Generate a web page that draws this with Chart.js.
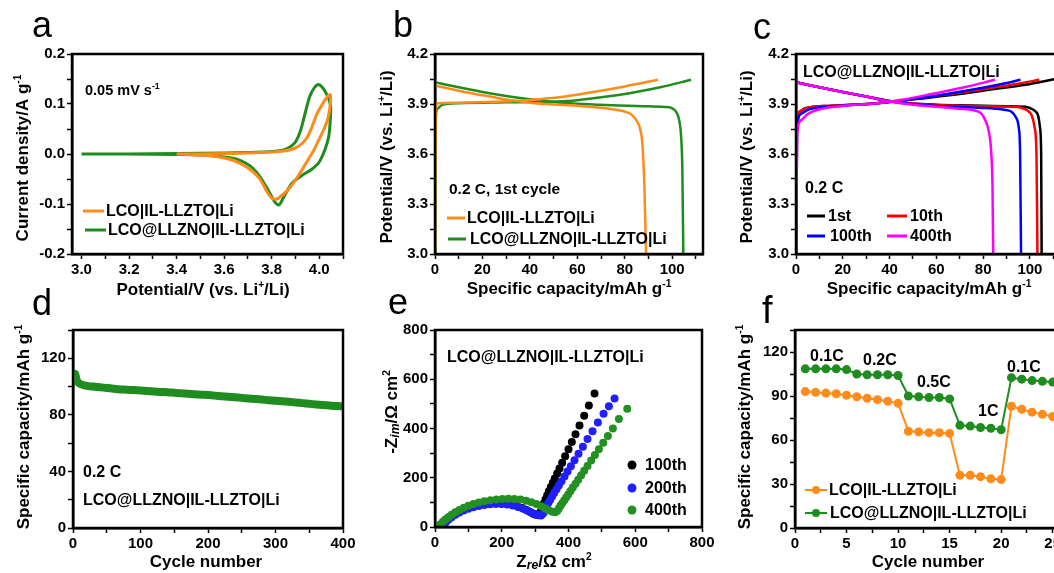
<!DOCTYPE html>
<html>
<head>
<meta charset="utf-8">
<script src="https://cdn.jsdelivr.net/npm/chart.js@4.4.1/dist/chart.umd.min.js"></script>
<style>
  html, body { margin: 0; padding: 0; background: #fff; overflow: hidden; }
  #wrap { position: relative; width: 1054px; height: 573px; overflow: hidden; background: #fff; }
  canvas { position: absolute; }
  .lt { position: absolute; font-family: "Liberation Sans", Arial, sans-serif; font-size: 36px; line-height: 36px; color: #000; }
</style>
</head>
<body>
<div id="wrap">
  <canvas id="pa"></canvas>
  <canvas id="pb"></canvas>
  <canvas id="pc"></canvas>
  <canvas id="pd"></canvas>
  <canvas id="pe"></canvas>
  <canvas id="pf"></canvas>
  <div class="lt" style="left:32px;top:7px">a</div>
  <div class="lt" style="left:393px;top:7px">b</div>
  <div class="lt" style="left:753px;top:9px">c</div>
  <div class="lt" style="left:32px;top:285px">d</div>
  <div class="lt" style="left:388px;top:284px">e</div>
  <div class="lt" style="left:762px;top:292px;font-size:38px">f</div>
</div>
<script>
// ---- data ----
const cellLabels = ['LCO|IL-LLZTO|Li', 'LCO@LLZNO|IL-LLZTO|Li'];

// a: CV, potential (V) vs current density (A/g)
const cvOrange = [[3.40,0.000],[3.50,0.000],[3.60,0.001],[3.70,0.002],[3.80,0.004],[3.85,0.006],[3.90,0.012],[3.93,0.022],[3.95,0.034],[3.97,0.055],[3.99,0.080],[4.01,0.097],[4.03,0.112],[4.046,0.119],
  [4.048,0.108],[4.044,0.090],[4.036,0.070],[4.02,0.050],[4.00,0.030],[3.98,0.010],[3.96,-0.006],[3.94,-0.022],[3.91,-0.045],[3.88,-0.065],[3.85,-0.080],[3.82,-0.090],[3.80,-0.088],[3.78,-0.075],[3.75,-0.050],[3.72,-0.035],[3.68,-0.022],[3.64,-0.013],[3.60,-0.008],[3.55,-0.004],[3.50,-0.002],[3.45,-0.001],[3.40,0.000]];
const cvGreen = [[3.00,0.000],[3.20,0.000],[3.40,0.001],[3.60,0.002],[3.70,0.003],[3.80,0.005],[3.85,0.008],[3.88,0.015],[3.90,0.024],[3.92,0.045],[3.94,0.080],[3.96,0.115],[3.98,0.133],[3.996,0.139],[4.01,0.135],[4.025,0.125],[4.04,0.110],[4.048,0.095],
  [4.046,0.065],[4.040,0.035],[4.025,0.010],[4.00,-0.016],[3.97,-0.030],[3.93,-0.042],[3.90,-0.052],[3.88,-0.062],[3.86,-0.078],[3.84,-0.096],[3.83,-0.102],[3.815,-0.097],[3.80,-0.085],[3.78,-0.068],[3.75,-0.045],[3.72,-0.028],[3.69,-0.018],[3.65,-0.010],[3.60,-0.006],[3.50,-0.002],[3.40,-0.001],[3.20,0.000],[3.00,0.000]];

// b: 1st cycle at 0.2 C, capacity (mAh/g) vs potential (V)
const bOrangeCharge = [[0,3.0],[0.3,3.86],[1,3.905],[10,3.908],[25,3.913],[40,3.924],[55,3.945],[68,3.975],[80,4.005],[94,4.045]];
const bOrangeDischarge = [[0,4.01],[10,3.98],[20,3.952],[30,3.927],[40,3.908],[50,3.897],[60,3.89],[70,3.877],[76,3.866],[80,3.855],[83,3.835],[85,3.80],[86.5,3.75],[87.5,3.65],[88.3,3.4],[89,3.0]];
const bGreenCharge = [[0,3.0],[0.3,3.8],[1,3.87],[3,3.895],[10,3.905],[30,3.91],[45,3.913],[58,3.92],[70,3.94],[82,3.965],[95,4.0],[108,4.045]];
const bGreenDischarge = [[0,4.03],[10,4.0],[20,3.972],[30,3.948],[40,3.928],[50,3.912],[60,3.902],[75,3.893],[90,3.886],[98,3.882],[100.5,3.87],[102,3.845],[103,3.80],[103.8,3.70],[104.3,3.5],[104.7,3.0]];

// c: LCO@LLZNO cell at 0.2 C, selected cycles
const cCycleLabels = ['1st', '10th', '100th', '400th'];
const c1stCharge = [[0,3.0],[0.3,3.8],[1,3.85],[4,3.875],[15,3.89],[30,3.9],[40,3.912],[55,3.935],[70,3.96],[85,3.99],[98,4.015],[111,4.05]];
const c1stDischarge = [[0,4.03],[10,4.0],[20,3.972],[30,3.945],[40,3.918],[50,3.903],[60,3.896],[70,3.892],[80,3.89],[90,3.887],[98,3.884],[100,3.876],[102,3.86],[103.5,3.83],[104.3,3.76],[104.8,3.6],[105,3.0]];
const c10thCharge = [[0,3.0],[0.3,3.8],[1,3.85],[4,3.875],[15,3.89],[30,3.9],[40,3.913],[55,3.94],[70,3.968],[85,4.0],[95,4.022],[104,4.045]];
const c10thDischarge = [[0,4.03],[10,4.0],[20,3.972],[30,3.945],[40,3.918],[50,3.902],[60,3.894],[70,3.89],[80,3.887],[90,3.884],[95,3.882],[97,3.874],[99,3.86],[100.8,3.83],[102,3.76],[102.8,3.6],[103.2,3.0]];
const c100thCharge = [[0,3.0],[0.5,3.75],[2,3.84],[6,3.87],[20,3.89],[35,3.905],[45,3.92],[60,3.95],[75,3.985],[88,4.02],[96,4.045]];
const c100thDischarge = [[0,4.03],[10,4.0],[20,3.972],[30,3.945],[40,3.916],[50,3.898],[60,3.888],[70,3.882],[80,3.876],[85,3.872],[89,3.866],[92,3.855],[94,3.82],[95.2,3.76],[95.8,3.6],[96.2,3.0]];
const c400thCharge = [[0,3.0],[0.5,3.72],[2,3.8],[5,3.84],[10,3.868],[20,3.888],[35,3.905],[45,3.925],[58,3.96],[72,4.0],[85,4.045]];
const c400thDischarge = [[0,4.03],[10,4.0],[20,3.972],[30,3.945],[40,3.915],[50,3.895],[60,3.883],[70,3.872],[76,3.862],[79,3.845],[81,3.80],[82.5,3.73],[83.5,3.6],[84,3.4],[84.3,3.0]];

// d: cycling at 0.2 C
const dCycles = [1,3,6,10,20,30,40,50,60,70,80,90,100,110,120,130,140,150,160,170,180,190,200,210,220,230,240,250,260,270,280,290,300,310,320,330,340,350,360,370,380,390,400];
const dCapacity = [107,109,104,102,100.5,100,99.5,99,98.5,98,97.8,97.5,97.2,96.8,96.5,96.2,96,95.6,95.2,95,94.6,94.3,94,93.6,93.2,92.8,92.4,92,91.6,91.2,90.8,90.4,90,89.6,89.2,88.8,88.3,87.8,87.4,87,86.6,86.2,86];

// e: Nyquist plots (Zre, -Zim) in ohm cm2
const eLabels = ['100th', '200th', '400th'];
const e100th = [[12,0],[18,10],[25,20],[33,30],[42,40],[52,50],[63,59],[75,67],[88,74],[102,80],[117,86],[133,90],[150,93],[167,95],[184,96],[200,95],[216,93],[232,89],[247,84],[261,77],[274,69],[285,61],[294,54],[302,50],
  [310,50],[316,62],[321,78],[326,95],[331,112],[336,128],[341,145],[347,162],[353,180],[359,197],[366,217],[373,238],[381,261],[390,287],[400,316],[410,345],[421,377],[433,412],[447,452],[461,493],[478,542]];
const e200th = [[20,0],[26,10],[33,20],[41,30],[50,40],[61,50],[73,59],[86,67],[100,74],[115,80],[131,85],[148,89],[165,92],[182,93],[199,93],[216,91],[233,87],[249,81],[264,74],[278,66],[290,58],[300,52],[310,48],[318,47],
  [324,55],[329,68],[334,82],[339,96],[345,110],[351,124],[357,138],[364,153],[371,169],[379,186],[388,205],[397,225],[407,247],[418,271],[430,297],[443,326],[457,357],[472,389],[488,424],[505,460],[521,490],[538,522]];
const e400th = [[10,0],[16,10],[23,20],[31,30],[40,40],[50,50],[61,60],[73,69],[86,78],[100,86],[115,93],[131,99],[148,105],[166,109],[184,112],[202,114],[220,115],[238,114],[256,112],[273,107],[289,101],[304,93],[318,84],[331,75],[342,67],[352,62],[360,60],
  [366,65],[371,75],[376,86],[381,96],[387,108],[393,120],[399,132],[406,146],[413,160],[421,176],[429,192],[438,210],[447,228],[457,248],[468,270],[479,292],[491,316],[504,342],[518,370],[533,400],[551,439],[576,480]];

// f: rate capability
const fCycles = [1,2,3,4,5,6,7,8,9,10,11,12,13,14,15,16,17,18,19,20,21,22,23,24,25,26];
const fOrange = [93,92.5,92,91.5,90.5,89.5,88.5,87.5,86.5,85,66,65.5,65,65,64.5,36,36,35,33.5,33,83,81,79,77.5,76,75];
const fGreen = [108.5,108.5,108.5,108.5,108,105,104.5,104.5,104.5,104,90,89.5,89,89,88,70,69.5,68.5,68,67,102.5,101.5,100.5,100,99.5,99];
const fRateLabels = ['0.1C', '0.2C', '0.5C', '1C', '0.1C'];

// ---- drawing ----
const FONT = '"Liberation Sans", Arial, sans-serif';
const ORANGE = '#ff8c1a', GREEN = '#1e8c1e';
Chart.defaults.color = '#000';
Chart.defaults.font.family = FONT;

const pts = arr => arr.map(([x, y]) => ({ x, y }));

function rich(ctx, t) {
  const size = t.size || 16;
  const parts = t.segs.map(s => {
    const [txt, k] = typeof s === 'string' ? [s, ''] : s;
    const fs = k === 'sup' ? size * 0.6 : k === 'it' ? size * 0.72 : size;
    const font = (k === 'it' ? 'italic ' : '') + 'bold ' + fs + 'px ' + FONT;
    ctx.font = font;
    return { txt, font, w: ctx.measureText(txt).width, dy: k === 'sup' ? -size * 0.42 : k === 'it' ? size * 0.1 : 0 };
  });
  const total = parts.reduce((s, p) => s + p.w, 0);
  ctx.save();
  ctx.translate(t.x, t.y);
  if (t.rot) ctx.rotate(-Math.PI / 2);
  let cx = t.align === 'center' ? -total / 2 : 0;
  ctx.fillStyle = '#000';
  ctx.textBaseline = 'alphabetic';
  ctx.textAlign = 'left';
  parts.forEach(p => { ctx.font = p.font; ctx.fillText(p.txt, cx, p.dy); cx += p.w; });
  ctx.restore();
}

const decoPlugin = {
  id: 'deco',
  afterDatasetsDraw(chart, args, o) {
    const ctx = chart.ctx, a = chart.chartArea;
    ctx.save();
    ctx.strokeStyle = '#000';
    ctx.lineWidth = 2.5;
    ctx.strokeRect(a.left, a.top, a.right - a.left, a.bottom - a.top);
    ctx.translate(-o.ox, -o.oy);
    (o.texts || []).forEach(t => rich(ctx, t));
    (o.keys || []).forEach(k => {
      const ds = chart.data.datasets[k.ds];
      const col = ds.borderColor;
      if (k.x2) {
        ctx.strokeStyle = col; ctx.lineWidth = k.lw || 3;
        ctx.beginPath(); ctx.moveTo(k.x1, k.y); ctx.lineTo(k.x2, k.y); ctx.stroke();
      }
      if (k.r) {
        ctx.fillStyle = col;
        ctx.beginPath(); ctx.arc(k.cx, k.y, k.r, 0, Math.PI * 2); ctx.fill();
      }
      ctx.fillStyle = '#000';
      ctx.font = 'bold ' + (k.size || 16) + 'px ' + FONT;
      ctx.textBaseline = 'middle';
      ctx.textAlign = 'left';
      ctx.fillText(ds.label, k.tx, k.y + 1);
    });
    ctx.restore();
  }
};

function linScale(min, max, major, minor, dec) {
  return {
    type: 'linear', min, max,
    afterBuildTicks(s) {
      const t = [];
      const i0 = Math.ceil(min / minor - 1e-6), i1 = Math.floor(max / minor + 1e-6);
      for (let i = i0; i <= i1; i++) t.push({ value: +(i * minor).toFixed(6) });
      s.ticks = t;
    },
    ticks: {
      autoSkip: false, maxRotation: 0, padding: 2, color: '#000',
      font: { family: FONT, size: 15, weight: 'bold' },
      callback(v) {
        const k = v / major;
        return Math.abs(k - Math.round(k)) < 1e-6 ? v.toFixed(dec) : '';
      }
    },
    grid: { display: true, drawOnChartArea: false, drawTicks: true, tickLength: 5, tickColor: '#000', tickWidth: 1.5 },
    border: { display: true, color: '#000', width: 2.5 }
  };
}

function panel(id, box, plot, xs, ys, datasets, deco) {
  const cv = document.getElementById(id);
  cv.width = box.w; cv.height = box.h;
  cv.style.left = box.left + 'px'; cv.style.top = box.top + 'px';
  xs.afterFit = s => { s.height = box.top + box.h - plot.B; };
  ys.afterFit = s => { s.width = plot.L - box.left; };
  return new Chart(cv, {
    type: 'scatter',
    data: { datasets },
    options: {
      responsive: false, animation: false, events: [],
      layout: { padding: { left: 0, top: plot.T - box.top, right: box.left + box.w - plot.R, bottom: 0 } },
      scales: { x: xs, y: ys },
      plugins: {
        legend: { display: false }, tooltip: { enabled: false },
        deco: Object.assign({ ox: box.left, oy: box.top }, deco)
      }
    },
    plugins: [decoPlugin]
  });
}

function curve(label, data, color, width, extra) {
  return Object.assign({
    label, data: pts(data), showLine: true, borderColor: color, backgroundColor: color,
    borderWidth: width, pointRadius: 0, tension: 0, cubicInterpolationMode: 'monotone'
  }, extra || {});
}

const titleSize = 17;
const capTitle = ['Specific capacity/mAh g', ['-1', 'sup']];
const potTitle = ['Potential/V (vs. Li', ['+', 'sup'], '/Li)'];

// a
panel('pa', { left: 0, top: 0, w: 370, h: 305 }, { L: 72, R: 343, T: 54, B: 254 },
  linScale(2.96, 4.1, 0.2, 0.1, 1), linScale(-0.2, 0.2, 0.1, 0.05, 1),
  [curve(cellLabels[0], cvOrange, ORANGE, 3, { tension: 0.3, cubicInterpolationMode: 'default' }),
   curve(cellLabels[1], cvGreen, GREEN, 3, { tension: 0.3, cubicInterpolationMode: 'default' })],
  {
    texts: [
      { segs: ['Current density/A g', ['-1', 'sup']], x: 28, y: 158, size: titleSize, align: 'center', rot: true },
      { segs: potTitle, x: 203, y: 295, size: titleSize, align: 'center' },
      { segs: ['0.05 mV s', ['-1', 'sup']], x: 85, y: 95, size: 14.5 }
    ],
    keys: [
      { ds: 0, x1: 83, x2: 104, y: 211, tx: 106 },
      { ds: 1, x1: 85, x2: 106, y: 230, tx: 108 }
    ]
  });

// b
panel('pb', { left: 352, top: 0, w: 380, h: 305 }, { L: 435, R: 703, T: 54, B: 254 },
  linScale(0, 113, 20, 10, 0), linScale(3.0, 4.2, 0.3, 0.15, 1),
  [curve(cellLabels[0], bOrangeCharge, ORANGE, 2.5),
   curve(cellLabels[0], bOrangeDischarge, ORANGE, 2.5),
   curve(cellLabels[1], bGreenCharge, GREEN, 2.5),
   curve(cellLabels[1], bGreenDischarge, GREEN, 2.5)],
  {
    texts: [
      { segs: potTitle, x: 392, y: 157, size: titleSize, align: 'center', rot: true },
      { segs: capTitle, x: 569, y: 294, size: titleSize, align: 'center' },
      { segs: ['0.2 C, 1st cycle'], x: 449, y: 194, size: 15.5 }
    ],
    keys: [
      { ds: 0, x1: 447, x2: 465, y: 218, tx: 467 },
      { ds: 2, x1: 448, x2: 466, y: 239, tx: 470 }
    ]
  });

// c
const cColors = ['#000000', '#ff0000', '#0000ff', '#ff00ff'];
const cData = [[c1stCharge, c1stDischarge], [c10thCharge, c10thDischarge], [c100thCharge, c100thDischarge], [c400thCharge, c400thDischarge]];
const cSets = [];
cData.forEach((pair, i) => {
  cSets.push(curve(cCycleLabels[i], pair[0], cColors[i], 2.5));
  cSets.push(curve(cCycleLabels[i], pair[1], cColors[i], 2.5));
});
panel('pc', { left: 712, top: 0, w: 360, h: 305 }, { L: 796, R: 1058, T: 54, B: 254 },
  linScale(0, 112, 20, 10, 0), linScale(3.0, 4.2, 0.3, 0.15, 1),
  cSets.reverse(),
  {
    texts: [
      { segs: potTitle, x: 752, y: 157, size: titleSize, align: 'center', rot: true },
      { segs: capTitle, x: 929, y: 294, size: titleSize, align: 'center' },
      { segs: [cellLabels[1]], x: 803, y: 77, size: 16 },
      { segs: ['0.2 C'], x: 805, y: 193, size: 16 }
    ],
    keys: [
      { ds: 7, x1: 807, x2: 825, y: 216, tx: 828 },
      { ds: 5, x1: 887, x2: 907, y: 216, tx: 910 },
      { ds: 3, x1: 807, x2: 825, y: 236, tx: 830 },
      { ds: 1, x1: 887, x2: 907, y: 236, tx: 910 }
    ]
  });

// d
panel('pd', { left: 0, top: 300, w: 370, h: 273 }, { L: 73, R: 343, T: 330, B: 528 },
  linScale(0, 400, 100, 50, 0), linScale(0, 140, 40, 20, 0),
  [{ label: cellLabels[1], data: dCycles.map((c, i) => ({ x: c, y: dCapacity[i] })), showLine: true,
     borderColor: GREEN, backgroundColor: GREEN, borderWidth: 8, pointRadius: 0, tension: 0.3 }],
  {
    texts: [
      { segs: capTitle, x: 29, y: 427, size: titleSize, align: 'center', rot: true },
      { segs: ['Cycle number'], x: 206, y: 567, size: titleSize, align: 'center' },
      { segs: ['0.2 C'], x: 83, y: 477, size: 16 },
      { segs: [cellLabels[1]], x: 83, y: 505, size: 16 }
    ]
  });

// e
const eColors = ['#000000', '#1f1fff', '#229022'];
panel('pe', { left: 352, top: 300, w: 380, h: 273 }, { L: 435, R: 702, T: 330, B: 527 },
  linScale(0, 800, 200, 100, 0), linScale(0, 800, 200, 100, 0),
  [e400th, e200th, e100th].map((d, i) => ({
    label: eLabels[2 - i], data: pts(d), showLine: false, pointRadius: 4,
    borderColor: eColors[2 - i], backgroundColor: eColors[2 - i], pointBorderWidth: 0
  })),
  {
    texts: [
      { segs: ['-Z', ['im', 'it'], '/Ω cm', ['2', 'sup']], x: 397, y: 412, size: titleSize, align: 'center', rot: true },
      { segs: ['Z', ['re', 'it'], '/Ω cm', ['2', 'sup']], x: 554, y: 567, size: titleSize, align: 'center' },
      { segs: [cellLabels[1]], x: 447, y: 362, size: 16 }
    ],
    keys: [
      { ds: 2, r: 4.5, cx: 632, y: 465, tx: 645 },
      { ds: 1, r: 4.5, cx: 632, y: 488, tx: 645 },
      { ds: 0, r: 4.5, cx: 632, y: 510, tx: 645 }
    ]
  });

// f
panel('pf', { left: 712, top: 300, w: 370, h: 273 }, { L: 795, R: 1063, T: 330, B: 528 },
  linScale(0, 26, 5, 2.5, 0), linScale(0, 135, 30, 15, 0),
  [{ label: cellLabels[0], data: fCycles.map((c, i) => ({ x: c, y: fOrange[i] })), showLine: true,
     borderColor: ORANGE, backgroundColor: ORANGE, borderWidth: 2, pointRadius: 4.5, pointBorderWidth: 0 },
   { label: cellLabels[1], data: fCycles.map((c, i) => ({ x: c, y: fGreen[i] })), showLine: true,
     borderColor: GREEN, backgroundColor: GREEN, borderWidth: 2, pointRadius: 4.5, pointBorderWidth: 0 }],
  {
    texts: [
      { segs: capTitle, x: 750, y: 427, size: titleSize, align: 'center', rot: true },
      { segs: ['Cycle number'], x: 928, y: 567, size: titleSize, align: 'center' },
      { segs: [fRateLabels[0]], x: 810, y: 361, size: 16 },
      { segs: [fRateLabels[1]], x: 863, y: 365, size: 16 },
      { segs: [fRateLabels[2]], x: 917, y: 387, size: 16 },
      { segs: [fRateLabels[3]], x: 978, y: 416, size: 16 },
      { segs: [fRateLabels[4]], x: 1007, y: 372, size: 16 }
    ],
    keys: [
      { ds: 0, x1: 805, x2: 827, y: 490, r: 4, cx: 816, tx: 829, lw: 2 },
      { ds: 1, x1: 805, x2: 827, y: 513, r: 4, cx: 816, tx: 830, lw: 2 }
    ]
  });
</script>
</body>
</html>
